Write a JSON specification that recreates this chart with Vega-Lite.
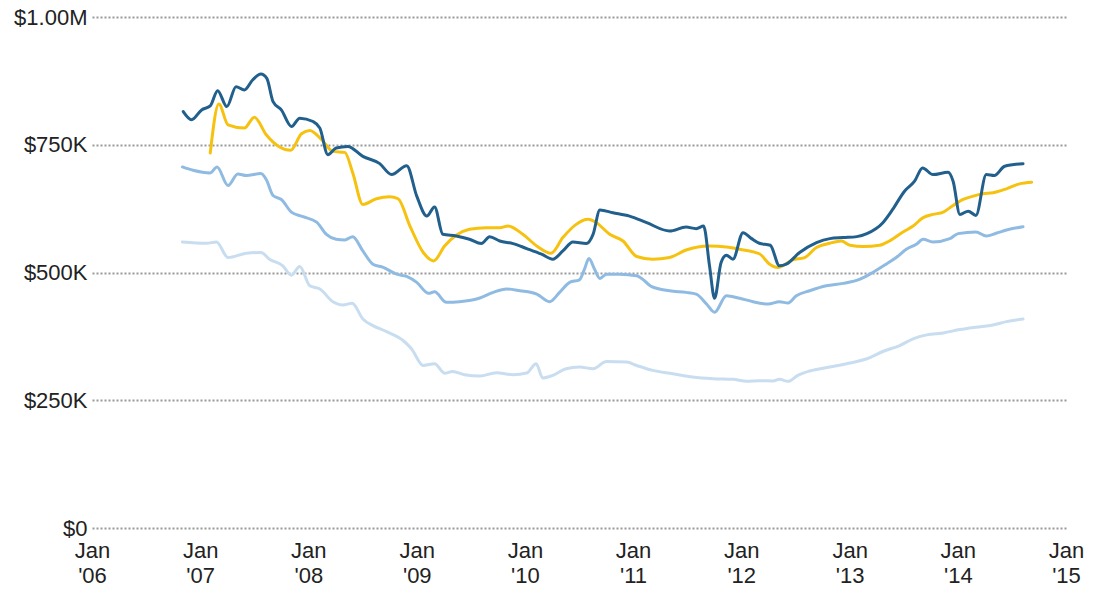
{
"$schema":"https://vega.github.io/schema/vega-lite/v6.json",
"width":974,"height":511,
"autosize":{"type":"none"},
"padding":{"left":92,"top":17,"right":35,"bottom":66},
"background":"white",
"config":{"view":{"stroke":null},"font":"Liberation Sans"},
"data":{"values":[
{"s":"D","d":"2006-11-02","v":559700},{"s":"D","d":"2007-01-22","v":557200},{"s":"D","d":"2007-02-25","v":559700},{"s":"D","d":"2007-04-05","v":529300},{"s":"D","d":"2007-06-06","v":537700},{"s":"D","d":"2007-07-25","v":539100},{"s":"D","d":"2007-08-23","v":526000},{"s":"D","d":"2007-10-07","v":513000},{"s":"D","d":"2007-11-05","v":494800},{"s":"D","d":"2007-12-03","v":511800},{"s":"D","d":"2008-01-06","v":474000},{"s":"D","d":"2008-02-09","v":467600},{"s":"D","d":"2008-03-24","v":442800},{"s":"D","d":"2008-04-27","v":436400},{"s":"D","d":"2008-05-28","v":439700},{"s":"D","d":"2008-07-03","v":409100},{"s":"D","d":"2008-08-06","v":396100},{"s":"D","d":"2008-09-21","v":384400},{"s":"D","d":"2008-11-16","v":366900},{"s":"D","d":"2008-12-14","v":350700},{"s":"D","d":"2009-01-23","v":318100},{"s":"D","d":"2009-03-02","v":321500},{"s":"D","d":"2009-04-05","v":302900},{"s":"D","d":"2009-05-02","v":306500},{"s":"D","d":"2009-06-11","v":300000},{"s":"D","d":"2009-08-02","v":297500},{"s":"D","d":"2009-09-27","v":303900},{"s":"D","d":"2009-11-22","v":300000},{"s":"D","d":"2010-01-07","v":303300},{"s":"D","d":"2010-02-08","v":321500},{"s":"D","d":"2010-03-02","v":293600},{"s":"D","d":"2010-04-05","v":298700},{"s":"D","d":"2010-05-20","v":311700},{"s":"D","d":"2010-07-04","v":315000},{"s":"D","d":"2010-08-19","v":311700},{"s":"D","d":"2010-10-03","v":325900},{"s":"D","d":"2010-12-10","v":324800},{"s":"D","d":"2011-01-13","v":318100},{"s":"D","d":"2011-03-08","v":308400},{"s":"D","d":"2011-05-15","v":302000},{"s":"D","d":"2011-07-21","v":295500},{"s":"D","d":"2011-09-28","v":292200},{"s":"D","d":"2011-12-04","v":290900},{"s":"D","d":"2012-01-19","v":287000},{"s":"D","d":"2012-03-02","v":288300},{"s":"D","d":"2012-04-17","v":287700},{"s":"D","d":"2012-05-09","v":290900},{"s":"D","d":"2012-06-07","v":287000},{"s":"D","d":"2012-07-10","v":298700},{"s":"D","d":"2012-08-19","v":307200},{"s":"D","d":"2012-10-26","v":315000},{"s":"D","d":"2013-01-02","v":322800},{"s":"D","d":"2013-02-28","v":331200},{"s":"D","d":"2013-04-23","v":345400},{"s":"D","d":"2013-06-19","v":357100},{"s":"D","d":"2013-08-03","v":370200},{"s":"D","d":"2013-09-18","v":378000},{"s":"D","d":"2013-11-13","v":381800},{"s":"D","d":"2014-01-08","v":388300},{"s":"D","d":"2014-03-03","v":393000},{"s":"D","d":"2014-04-30","v":397400},{"s":"D","d":"2014-06-14","v":403900},{"s":"D","d":"2014-08-09","v":409100},
{"s":"C","d":"2006-11-02","v":706600},{"s":"C","d":"2006-12-08","v":700000},{"s":"C","d":"2007-02-04","v":694900},{"s":"C","d":"2007-02-27","v":706600},{"s":"C","d":"2007-04-05","v":670200},{"s":"C","d":"2007-05-08","v":693000},{"s":"C","d":"2007-06-06","v":689700},{"s":"C","d":"2007-07-25","v":693600},{"s":"C","d":"2007-08-12","v":681900},{"s":"C","d":"2007-09-04","v":650700},{"s":"C","d":"2007-10-02","v":642900},{"s":"C","d":"2007-11-05","v":618200},{"s":"C","d":"2007-12-14","v":609200},{"s":"C","d":"2008-01-29","v":598700},{"s":"C","d":"2008-03-02","v":574700},{"s":"C","d":"2008-04-04","v":565000},{"s":"C","d":"2008-05-03","v":563600},{"s":"C","d":"2008-05-30","v":570200},{"s":"C","d":"2008-07-03","v":542200},{"s":"C","d":"2008-08-06","v":516300},{"s":"C","d":"2008-09-10","v":509900},{"s":"C","d":"2008-10-25","v":496800},{"s":"C","d":"2008-11-28","v":492300},{"s":"C","d":"2009-01-01","v":480600},{"s":"C","d":"2009-02-10","v":459200},{"s":"C","d":"2009-03-02","v":462300},{"s":"C","d":"2009-04-11","v":441700},{"s":"C","d":"2009-05-25","v":442800},{"s":"C","d":"2009-08-02","v":450000},{"s":"C","d":"2009-09-16","v":461100},{"s":"C","d":"2009-10-31","v":467600},{"s":"C","d":"2009-12-15","v":464300},{"s":"C","d":"2010-02-10","v":457800},{"s":"C","d":"2010-03-25","v":442800},{"s":"C","d":"2010-04-28","v":461100},{"s":"C","d":"2010-06-01","v":480600},{"s":"C","d":"2010-07-04","v":485700},{"s":"C","d":"2010-07-21","v":506500},{"s":"C","d":"2010-08-05","v":527400},{"s":"C","d":"2010-08-24","v":506500},{"s":"C","d":"2010-09-11","v":488400},{"s":"C","d":"2010-10-03","v":496800},{"s":"C","d":"2010-11-17","v":496800},{"s":"C","d":"2011-01-13","v":493500},{"s":"C","d":"2011-01-30","v":488400},{"s":"C","d":"2011-03-03","v":472800},{"s":"C","d":"2011-05-04","v":464300},{"s":"C","d":"2011-06-29","v":461100},{"s":"C","d":"2011-08-02","v":457800},{"s":"C","d":"2011-09-06","v":438300},{"s":"C","d":"2011-10-03","v":422200},{"s":"C","d":"2011-11-12","v":454500},{"s":"C","d":"2011-12-27","v":449500},{"s":"C","d":"2012-02-10","v":442800},{"s":"C","d":"2012-04-01","v":438300},{"s":"C","d":"2012-05-09","v":442800},{"s":"C","d":"2012-06-07","v":440300},{"s":"C","d":"2012-07-05","v":454500},{"s":"C","d":"2012-08-19","v":464300},{"s":"C","d":"2012-10-14","v":474000},{"s":"C","d":"2012-12-10","v":478700},{"s":"C","d":"2013-02-05","v":487100},{"s":"C","d":"2013-03-20","v":500100},{"s":"C","d":"2013-05-04","v":516300},{"s":"C","d":"2013-06-07","v":529300},{"s":"C","d":"2013-07-11","v":545500},{"s":"C","d":"2013-08-14","v":555200},{"s":"C","d":"2013-09-06","v":565000},{"s":"C","d":"2013-10-09","v":559700},{"s":"C","d":"2013-12-05","v":566300},{"s":"C","d":"2014-01-02","v":576100},{"s":"C","d":"2014-03-03","v":579200},{"s":"C","d":"2014-04-07","v":571400},{"s":"C","d":"2014-05-10","v":576700},{"s":"C","d":"2014-06-14","v":583100},{"s":"C","d":"2014-08-09","v":589700},
{"s":"B","d":"2007-02-04","v":733900},{"s":"B","d":"2007-03-05","v":829900},{"s":"B","d":"2007-04-05","v":789000},{"s":"B","d":"2007-05-30","v":782600},{"s":"B","d":"2007-07-03","v":804000},{"s":"B","d":"2007-08-12","v":769500},{"s":"B","d":"2007-09-26","v":745600},{"s":"B","d":"2007-11-02","v":739000},{"s":"B","d":"2007-12-09","v":771500},{"s":"B","d":"2008-01-06","v":777900},{"s":"B","d":"2008-02-15","v":759800},{"s":"B","d":"2008-03-24","v":737000},{"s":"B","d":"2008-05-03","v":735100},{"s":"B","d":"2008-05-30","v":694900},{"s":"B","d":"2008-07-03","v":633200},{"s":"B","d":"2008-08-18","v":644300},{"s":"B","d":"2008-10-02","v":648200},{"s":"B","d":"2008-10-30","v":644300},{"s":"B","d":"2008-12-09","v":590900},{"s":"B","d":"2009-01-23","v":539100},{"s":"B","d":"2009-02-27","v":522700},{"s":"B","d":"2009-04-05","v":551900},{"s":"B","d":"2009-05-14","v":572800},{"s":"B","d":"2009-06-28","v":584500},{"s":"B","d":"2009-08-23","v":587800},{"s":"B","d":"2009-10-08","v":587800},{"s":"B","d":"2009-11-05","v":590900},{"s":"B","d":"2009-12-25","v":574700},{"s":"B","d":"2010-02-10","v":551900},{"s":"B","d":"2010-03-30","v":537700},{"s":"B","d":"2010-05-09","v":568300},{"s":"B","d":"2010-06-23","v":594200},{"s":"B","d":"2010-08-02","v":604000},{"s":"B","d":"2010-08-30","v":597500},{"s":"B","d":"2010-10-14","v":574700},{"s":"B","d":"2010-11-28","v":561700},{"s":"B","d":"2011-01-13","v":531300},{"s":"B","d":"2011-03-08","v":526000},{"s":"B","d":"2011-05-04","v":529300},{"s":"B","d":"2011-06-29","v":544100},{"s":"B","d":"2011-09-16","v":551900},{"s":"B","d":"2011-11-12","v":550000},{"s":"B","d":"2011-12-27","v":545500},{"s":"B","d":"2012-03-02","v":536700},{"s":"B","d":"2012-04-06","v":516300},{"s":"B","d":"2012-05-03","v":509900},{"s":"B","d":"2012-06-23","v":524700},{"s":"B","d":"2012-08-02","v":529300},{"s":"B","d":"2012-09-11","v":548800},{"s":"B","d":"2012-10-26","v":557200},{"s":"B","d":"2012-12-04","v":561700},{"s":"B","d":"2013-01-02","v":553300},{"s":"B","d":"2013-02-16","v":550800},{"s":"B","d":"2013-04-12","v":553300},{"s":"B","d":"2013-05-15","v":561700},{"s":"B","d":"2013-06-30","v":579200},{"s":"B","d":"2013-08-03","v":590900},{"s":"B","d":"2013-09-06","v":607300},{"s":"B","d":"2013-10-09","v":613700},{"s":"B","d":"2013-11-13","v":618200},{"s":"B","d":"2013-12-16","v":631200},{"s":"B","d":"2014-01-19","v":642900},{"s":"B","d":"2014-02-22","v":649400},{"s":"B","d":"2014-03-26","v":654000},{"s":"B","d":"2014-04-30","v":656000},{"s":"B","d":"2014-06-14","v":663800},{"s":"B","d":"2014-07-28","v":673500},{"s":"B","d":"2014-09-07","v":676600},
{"s":"A","d":"2006-11-05","v":815000},{"s":"A","d":"2006-12-03","v":799000},{"s":"A","d":"2007-01-06","v":818200},{"s":"A","d":"2007-02-04","v":826000},{"s":"A","d":"2007-03-01","v":855900},{"s":"A","d":"2007-04-01","v":824700},{"s":"A","d":"2007-05-02","v":863700},{"s":"A","d":"2007-05-30","v":857200},{"s":"A","d":"2007-06-27","v":876700},{"s":"A","d":"2007-07-25","v":888400},{"s":"A","d":"2007-08-14","v":880000},{"s":"A","d":"2007-09-04","v":834400},{"s":"A","d":"2007-10-02","v":818200},{"s":"A","d":"2007-11-05","v":785700},{"s":"A","d":"2007-12-03","v":802100},{"s":"A","d":"2008-01-17","v":795500},{"s":"A","d":"2008-02-09","v":782600},{"s":"A","d":"2008-03-07","v":730600},{"s":"A","d":"2008-04-04","v":743600},{"s":"A","d":"2008-05-13","v":746800},{"s":"A","d":"2008-07-03","v":727300},{"s":"A","d":"2008-08-29","v":713000},{"s":"A","d":"2008-10-08","v":691600},{"s":"A","d":"2008-11-28","v":709100},{"s":"A","d":"2009-01-01","v":649400},{"s":"A","d":"2009-02-04","v":610400},{"s":"A","d":"2009-03-02","v":628300},{"s":"A","d":"2009-03-30","v":574700},{"s":"A","d":"2009-05-14","v":571400},{"s":"A","d":"2009-06-28","v":565000},{"s":"A","d":"2009-08-07","v":556600},{"s":"A","d":"2009-09-04","v":570200},{"s":"A","d":"2009-10-08","v":561700},{"s":"A","d":"2009-11-22","v":556600},{"s":"A","d":"2010-01-07","v":546900},{"s":"A","d":"2010-02-26","v":535800},{"s":"A","d":"2010-04-05","v":526000},{"s":"A","d":"2010-05-09","v":542200},{"s":"A","d":"2010-06-12","v":559700},{"s":"A","d":"2010-07-27","v":556600},{"s":"A","d":"2010-08-19","v":574700},{"s":"A","d":"2010-09-11","v":622100},{"s":"A","d":"2010-10-25","v":617000},{"s":"A","d":"2010-12-20","v":610400},{"s":"A","d":"2011-02-16","v":597500},{"s":"A","d":"2011-05-04","v":581200},{"s":"A","d":"2011-06-29","v":588900},{"s":"A","d":"2011-08-02","v":585800},{"s":"A","d":"2011-08-27","v":590900},{"s":"A","d":"2011-09-16","v":513000},{"s":"A","d":"2011-10-03","v":449500},{"s":"A","d":"2011-10-25","v":519600},{"s":"A","d":"2011-11-12","v":533800},{"s":"A","d":"2011-12-04","v":526000},{"s":"A","d":"2012-01-07","v":578000},{"s":"A","d":"2012-02-05","v":566300},{"s":"A","d":"2012-03-02","v":557200},{"s":"A","d":"2012-04-08","v":553300},{"s":"A","d":"2012-05-09","v":513000},{"s":"A","d":"2012-06-01","v":516300},{"s":"A","d":"2012-07-16","v":539100},{"s":"A","d":"2012-09-11","v":558600},{"s":"A","d":"2012-10-26","v":566300},{"s":"A","d":"2012-12-10","v":568300},{"s":"A","d":"2013-01-25","v":570200},{"s":"A","d":"2013-02-28","v":576100},{"s":"A","d":"2013-04-23","v":597500},{"s":"A","d":"2013-05-26","v":623400},{"s":"A","d":"2013-07-05","v":659100},{"s":"A","d":"2013-08-08","v":678600},{"s":"A","d":"2013-09-04","v":704700},{"s":"A","d":"2013-10-09","v":691600},{"s":"A","d":"2013-11-29","v":696100},{"s":"A","d":"2013-12-16","v":678600},{"s":"A","d":"2014-01-08","v":613700},{"s":"A","d":"2014-02-05","v":620100},{"s":"A","d":"2014-03-03","v":611700},{"s":"A","d":"2014-04-07","v":691600},{"s":"A","d":"2014-05-04","v":689700},{"s":"A","d":"2014-06-08","v":707800},{"s":"A","d":"2014-08-09","v":713000}
]},
"mark":{"type":"line","strokeWidth":3,"interpolate":"monotone","strokeCap":"round","strokeJoin":"round"},
"encoding":{
"x":{"field":"d","type":"temporal",
"scale":{"domain":[{"year":2006,"month":1,"date":1},{"year":2015,"month":1,"date":1}],"nice":false},
"axis":{"title":null,"grid":false,"domain":false,"ticks":false,"tickCount":{"interval":"year","step":1},
"labelExpr":"['Jan', \"'\" + timeFormat(datum.value, '%y')]",
"labelFont":"Liberation Sans","labelFontSize":22,"labelColor":"#222222","labelPadding":12,"labelLineHeight":25,"labelFlush":false,"labelOverlap":false}},
"y":{"field":"v","type":"quantitative",
"scale":{"domain":[0,1000000],"nice":false},
"axis":{"title":null,"values":[0,250000,500000,750000,1000000],"domain":false,"ticks":false,
"labelExpr":"datum.value == 0 ? '$0' : datum.value >= 1000000 ? '$1.00M' : '$' + format(datum.value/1000, 'd') + 'K'",
"labelFont":"Liberation Sans","labelFontSize":22,"labelColor":"#222222","labelPadding":5,
"grid":true,"gridColor":"#999999","gridWidth":2,"gridDash":[2,2]}},
"color":{"field":"s","type":"nominal","legend":null,
"scale":{"domain":["D","C","B","A"],"range":["#c8ddf0","#8fbbe2","#f6c20f","#215f8c"]}}
}
}
